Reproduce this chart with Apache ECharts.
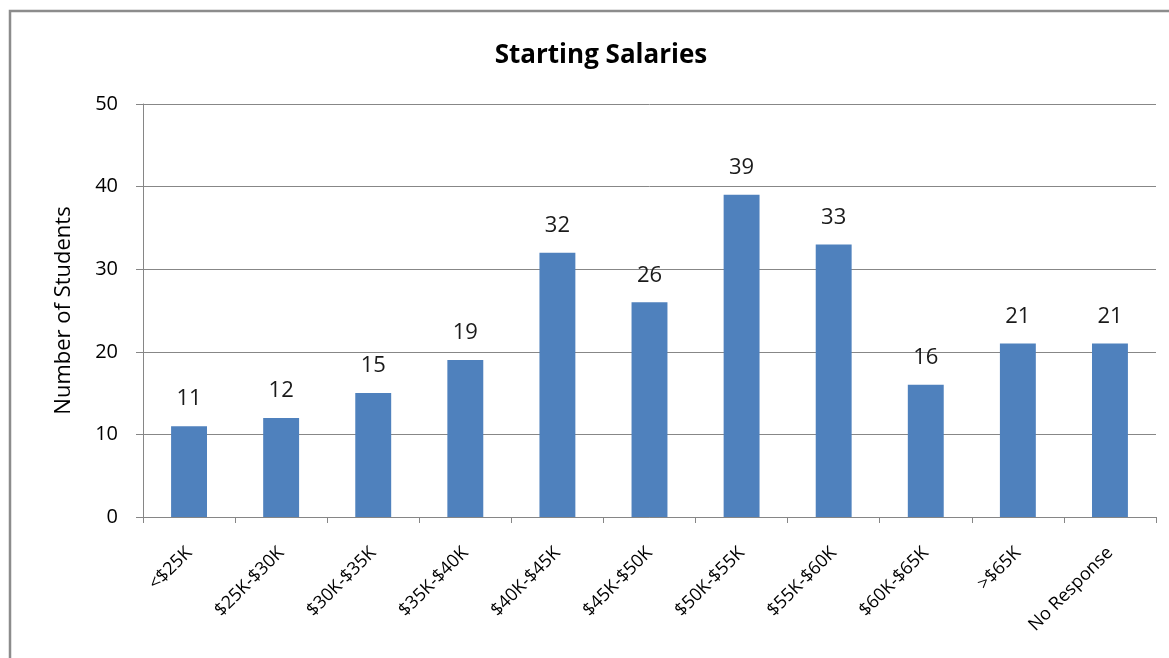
<!DOCTYPE html>
<html>
<head>
<meta charset="utf-8">
<script src="https://cdn.jsdelivr.net/npm/echarts@6/dist/echarts.min.js"></script>
<style>
html,body{margin:0;padding:0;background:#fff;}
#c{width:1169px;height:658px;}
</style>
</head>
<body>
<div id="c"></div>
<script>
const categories = ['<$25K','$25K-$30K','$30K-$35K','$35K-$40K','$40K-$45K','$45K-$50K','$50K-$55K','$55K-$60K','$60K-$65K','>$65K','No Response'];
const students = [11,12,15,19,32,26,39,33,16,21,21];
const yTicks = {min:0, max:50, interval:10};

const chart = echarts.init(document.getElementById('c'), null, {renderer:'canvas'});
const font = '"Open Sans", "DejaVu Sans", sans-serif';
chart.setOption({
  animation:false,
  backgroundColor:'#fff',
  graphic:[{
    type:'rect',
    shape:{x:10,y:11,width:1180,height:700},
    style:{fill:'none',stroke:'#8c8c8c',lineWidth:2.5},
    silent:true
  }],
  title:{
    text:'Starting Salaries',
    left:596, top:38, textAlign:'center',
    textStyle:{fontFamily:font,fontSize:26,fontWeight:'bold',color:'#000'}
  },
  grid:{left:143,right:13,top:104,bottom:141,containLabel:false},
  xAxis:{
    type:'category',
    data:categories,
    boundaryGap:true,
    axisLine:{lineStyle:{color:'#868686',width:1}},
    axisTick:{show:true,length:6,alignWithLabel:false,lineStyle:{color:'#868686'}},
    axisLabel:{rotate:45,interval:0,fontFamily:font,fontSize:18,color:'#000',margin:33}
  },
  yAxis:{
    type:'value',
    min:yTicks.min,max:yTicks.max,interval:yTicks.interval,
    name:'Number of Students',
    nameLocation:'middle',
    nameGap:68,
    nameTextStyle:{fontFamily:font,fontSize:22,color:'#000'},
    axisLine:{show:true,lineStyle:{color:'#868686',width:1}},
    axisTick:{show:true,length:7,lineStyle:{color:'#868686'}},
    splitLine:{show:true,lineStyle:{color:'#878787',width:1}},
    axisLabel:{fontFamily:font,fontSize:20,color:'#000',margin:25}
  },
  series:[{
    type:'bar',
    data:students,
    barWidth:'39%',
    itemStyle:{color:'#4F81BD'},
    label:{show:true,position:'top',distance:16,fontFamily:font,fontSize:22,color:'#1a1a1a'}
  }]
});
</script>
</body>
</html>
